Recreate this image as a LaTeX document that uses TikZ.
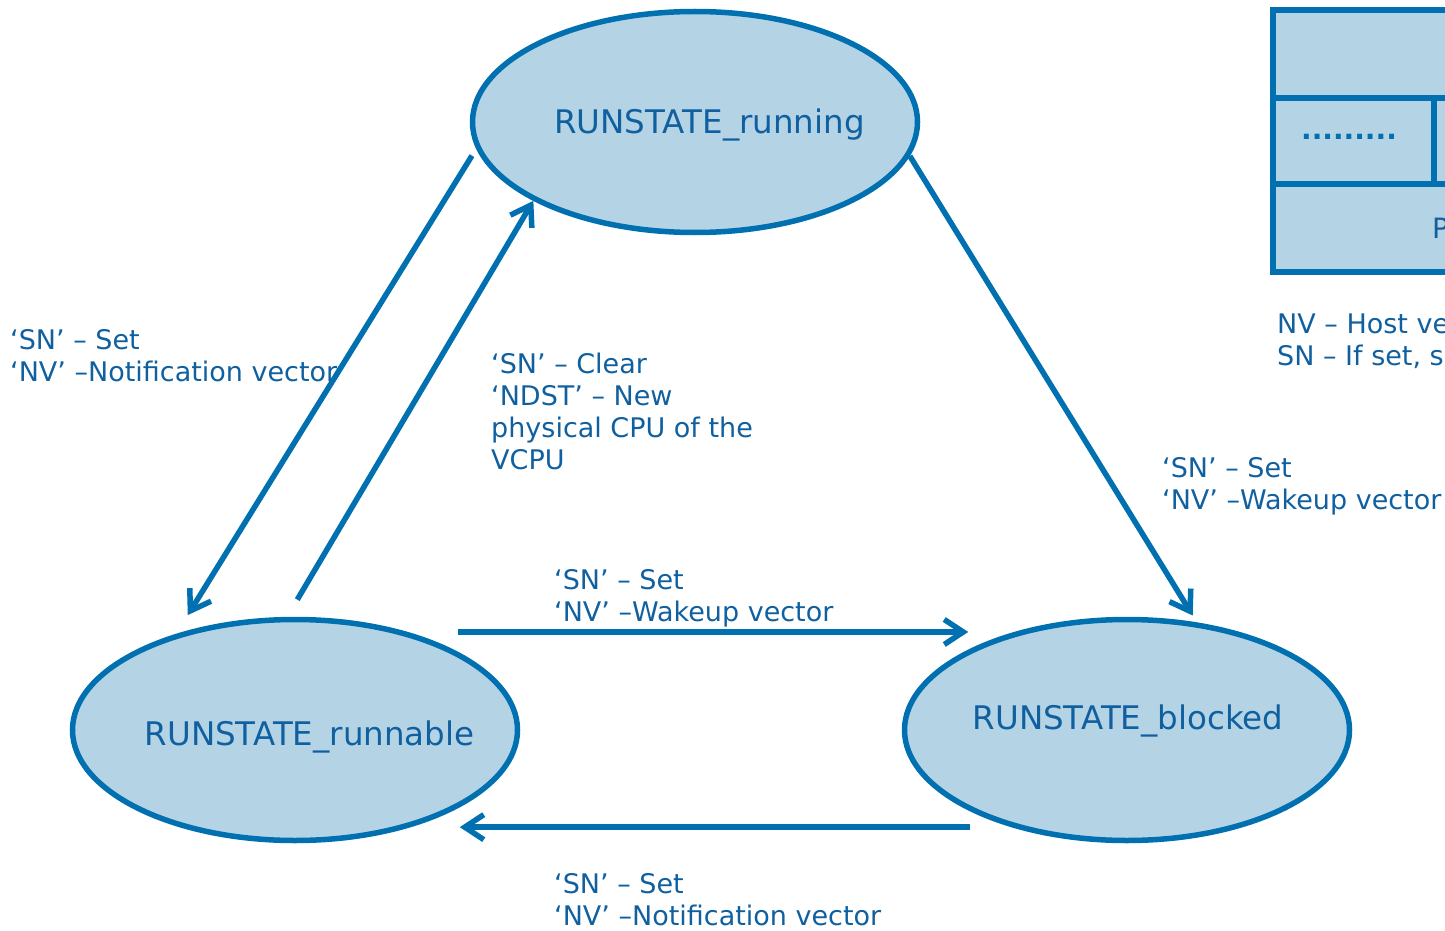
\documentclass[tikz,border=0pt]{standalone}
\usepackage{fontspec}
\setmainfont{DejaVu Sans}
\usetikzlibrary{shapes.geometric,arrows.meta}
\definecolor{stfill}{RGB}{180,212,230}
\definecolor{stline}{RGB}{0,112,176}
\definecolor{txtblue}{RGB}{16,96,160}
\tikzset{
  st/.style={ellipse, fill=stfill, draw=stline, line width=5.5pt, minimum width=445pt, minimum height=221pt, inner sep=0pt},
  sttxt/.style={font=\fontsize{32.5}{38}\selectfont, text=txtblue, inner sep=0pt},
  tr/.style={draw=stline, line width=5.5pt, -{Straight Barb[length=19pt,width=25pt]}},
  lbl/.style={font=\fontsize{27}{32}\selectfont, text=txtblue, align=left, anchor=north west, inner sep=0pt},
  pdbox/.style={fill=stfill, draw=stline, line width=5.5pt},
  statediag/.style={x=1pt, y=-1pt}
}

\begin{document}
\begin{tikzpicture}[statediag]
  \useasboundingbox (0,0) rectangle (1445,931);
  \clip (0,0) rectangle (1445,931);

  % the three states
  \node[st] (running) at (695,122) {};
  \node[st] (runnable) at (295,730) {};
  \node[st] (blocked) at (1127,730) {};
  \node[sttxt] (runningtxt) at (709.5,125) {RUNSTATE\_running};
  \node[sttxt] (runnabletxt) at (309.5,737) {RUNSTATE\_runnable};
  \node[sttxt] (blockedtxt) at (1128,721) {RUNSTATE\_blocked};

  % transitions
  \draw[tr, shorten <=8pt, shorten >=22pt] (running.187) -- (runnable.141);
  \draw[tr, shorten <=20pt] (runnable.94) -- (running.206);
  \draw[tr, shorten >=8pt] (running.351) -- (blocked.57);
  \draw[tr, shorten <=50pt, shorten >=46pt] (runnable.41) -- (blocked.139);
  \draw[tr, shorten <=41pt, shorten >=49pt] (blocked.220) -- (runnable.320);

  % labels
  \node[lbl] (lblA) at (10,329) {‘SN’ – Set\\‘NV’ –Notification vector};
  \node[lbl] (lblB) at (491,353) {‘SN’ – Clear\\‘NDST’ – New\\physical CPU of the\\VCPU};
  \node[lbl] (lblC) at (1162,457) {‘SN’ – Set\\‘NV’ –Wakeup vector};
  \node[lbl] (lblD) at (554,569) {‘SN’ – Set\\‘NV’ –Wakeup vector};
  \node[lbl] (lblE) at (554,873) {‘SN’ – Set\\‘NV’ –Notification vector};

  % descriptor (cut at the right edge)
  \draw[pdbox] (1273,10) rectangle (1480,272);
  \draw[pdbox] (1273,98) -- (1480,98);
  \draw[pdbox] (1273,184) -- (1480,184);
  \draw[pdbox] (1434,98) -- (1434,184);
  \node[text=stline, font=\fontsize{28}{28}\selectfont\bfseries, inner sep=0pt] (dots) at (1349,137) {.........};
  \node[sttxt, font=\fontsize{28}{28}\selectfont, anchor=west] (pfield) at (1432,228) {P};
  \node[lbl] (lblF) at (1277,314) {NV – Host ve\\SN – If set, s};
\end{tikzpicture}
\end{document}
